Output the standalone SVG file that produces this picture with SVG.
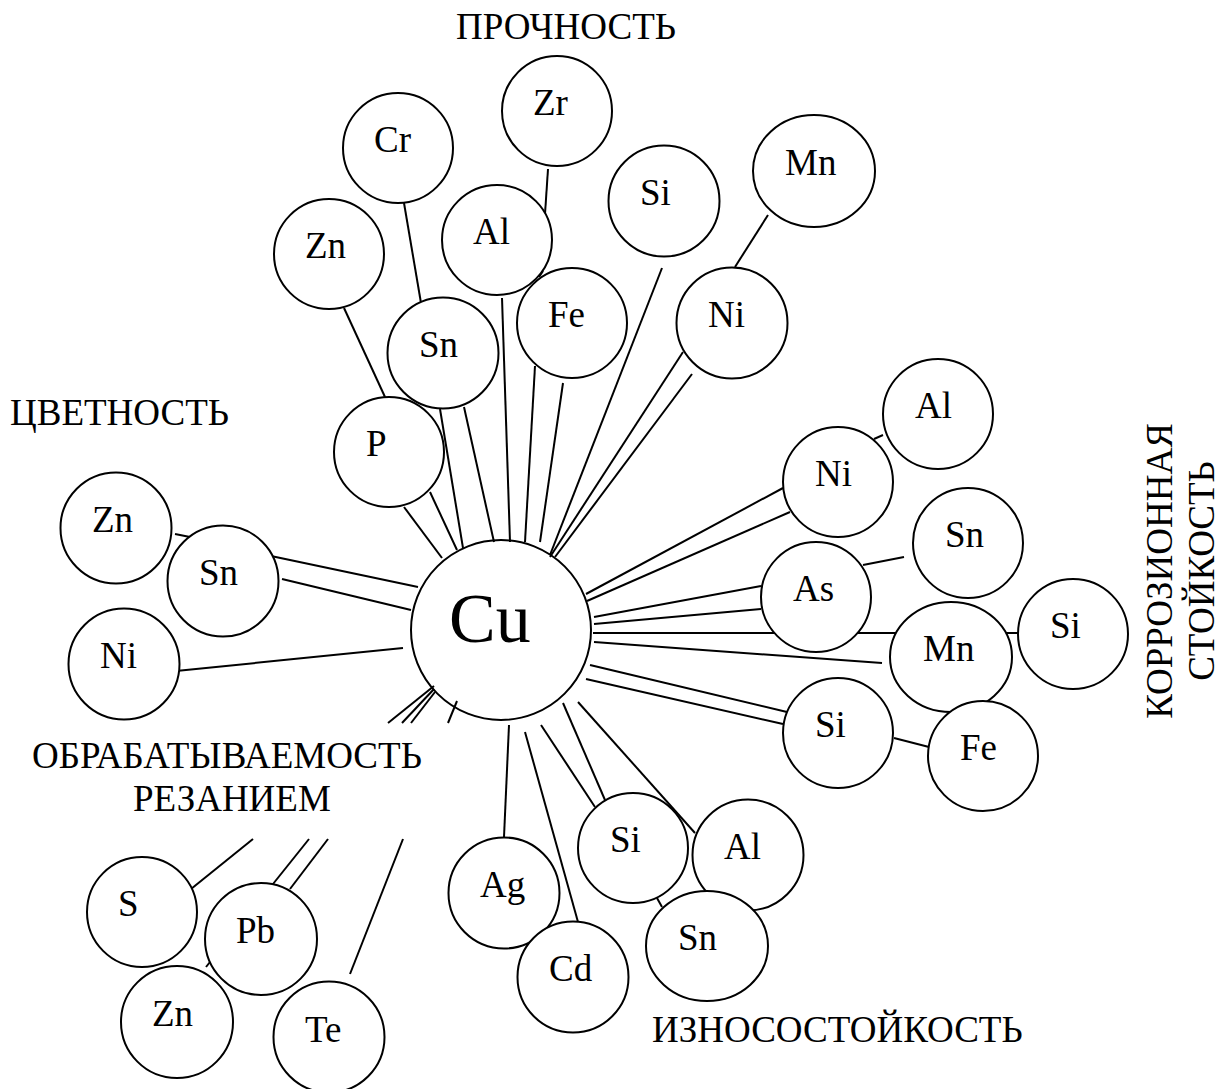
<svg xmlns="http://www.w3.org/2000/svg" width="1221" height="1089" viewBox="0 0 1221 1089">
<style>
.n{fill:#fff;stroke:#000;stroke-width:2}
.t{font-family:'Liberation Serif','Times New Roman',serif;font-size:37px;fill:#000}
.c line{stroke:#000;stroke-width:2}
</style>
<rect width="1221" height="1089" fill="#fff"/>
<g id="node-Cu"><circle class="n" cx="501" cy="630" r="90"/><text class="t" x="449" y="642" style="font-size:70px">Cu</text></g>
<g id="connectors" class="c">
<line x1="404" y1="203" x2="421" y2="303"/>
<line x1="548" y1="169" x2="545" y2="214"/>
<line x1="539" y1="277" x2="543" y2="271"/>
<line x1="344" y1="308" x2="385" y2="397"/>
<line x1="404" y1="507" x2="442" y2="558"/>
<line x1="430" y1="492" x2="457" y2="550"/>
<line x1="440" y1="409" x2="463" y2="548"/>
<line x1="464" y1="407" x2="494" y2="542"/>
<line x1="502" y1="298" x2="510" y2="542"/>
<line x1="535" y1="366" x2="525" y2="542"/>
<line x1="563" y1="383" x2="540" y2="542"/>
<line x1="662" y1="268" x2="550" y2="555"/>
<line x1="768" y1="215" x2="735" y2="267"/>
<line x1="683" y1="352" x2="550" y2="557"/>
<line x1="692" y1="374" x2="555" y2="557"/>
<line x1="175" y1="534" x2="190" y2="537"/>
<line x1="271" y1="556" x2="418" y2="587"/>
<line x1="282" y1="579" x2="411" y2="610"/>
<line x1="176" y1="671" x2="403" y2="648"/>
<line x1="874" y1="439" x2="883" y2="435"/>
<line x1="783" y1="488" x2="586" y2="594"/>
<line x1="790" y1="512" x2="587" y2="601"/>
<line x1="863" y1="565" x2="904" y2="557"/>
<line x1="761" y1="586" x2="594" y2="617"/>
<line x1="761" y1="609" x2="594" y2="624"/>
<line x1="593" y1="633" x2="1020" y2="633"/>
<line x1="594" y1="642" x2="882" y2="663"/>
<line x1="590" y1="665" x2="787" y2="712"/>
<line x1="586" y1="679" x2="783" y2="724"/>
<line x1="894" y1="738" x2="929" y2="747"/>
<line x1="509" y1="725" x2="504" y2="837"/>
<line x1="525" y1="732" x2="578" y2="922"/>
<line x1="541" y1="725" x2="595" y2="807"/>
<line x1="563" y1="703" x2="605" y2="800"/>
<line x1="578" y1="702" x2="695" y2="833"/>
<line x1="657" y1="898" x2="662" y2="907"/>
<line x1="434" y1="686" x2="388" y2="723"/>
<line x1="434" y1="689" x2="402" y2="723"/>
<line x1="435" y1="692" x2="411" y2="723"/>
<line x1="457" y1="701" x2="448" y2="723"/>
<line x1="253" y1="839" x2="191" y2="889"/>
<line x1="309" y1="839" x2="273" y2="884"/>
<line x1="328" y1="839" x2="290" y2="889"/>
<line x1="403" y1="839" x2="350" y2="974"/>
<line x1="210" y1="962" x2="206" y2="967"/>
</g>
<g id="node-Cr"><circle class="n" cx="398" cy="148" r="55"/><text class="t" x="374" y="152">Cr</text></g>
<g id="node-Zr"><circle class="n" cx="557" cy="111" r="55"/><text class="t" x="533" y="115">Zr</text></g>
<g id="node-Zn-top"><circle class="n" cx="329" cy="254" r="55"/><text class="t" x="305" y="258">Zn</text></g>
<g id="node-Al-top"><circle class="n" cx="497" cy="240" r="55"/><text class="t" x="473" y="244">Al</text></g>
<g id="node-Si-top"><circle class="n" cx="664" cy="201" r="55.5"/><text class="t" x="640" y="205">Si</text></g>
<g id="node-Mn-top"><ellipse class="n" cx="814" cy="171" rx="61" ry="56"/><text class="t" x="785" y="175">Mn</text></g>
<g id="node-Sn-top"><circle class="n" cx="443" cy="353" r="55.5"/><text class="t" x="419" y="357">Sn</text></g>
<g id="node-Fe-top"><circle class="n" cx="572" cy="323" r="55"/><text class="t" x="548" y="327">Fe</text></g>
<g id="node-Ni-top"><circle class="n" cx="732" cy="323" r="55.5"/><text class="t" x="708" y="327">Ni</text></g>
<g id="node-P"><circle class="n" cx="389" cy="452" r="55"/><text class="t" x="366" y="456">P</text></g>
<g id="node-Zn-left"><circle class="n" cx="116" cy="528" r="55.5"/><text class="t" x="92" y="532">Zn</text></g>
<g id="node-Sn-left"><circle class="n" cx="223" cy="581" r="55.5"/><text class="t" x="199" y="585">Sn</text></g>
<g id="node-Ni-left"><circle class="n" cx="124" cy="664" r="55.5"/><text class="t" x="100" y="668">Ni</text></g>
<g id="node-Ni-right"><circle class="n" cx="838" cy="482" r="55"/><text class="t" x="815" y="486">Ni</text></g>
<g id="node-Al-right"><circle class="n" cx="938" cy="414" r="55"/><text class="t" x="915" y="418">Al</text></g>
<g id="node-Sn-right"><circle class="n" cx="968" cy="543" r="55"/><text class="t" x="945" y="547">Sn</text></g>
<g id="node-As"><circle class="n" cx="816" cy="597" r="55"/><text class="t" x="793" y="601">As</text></g>
<g id="node-Mn-right"><ellipse class="n" cx="951" cy="657" rx="61" ry="55"/><text class="t" x="923" y="661">Mn</text></g>
<g id="node-Si-far"><circle class="n" cx="1073" cy="634" r="55"/><text class="t" x="1050" y="638">Si</text></g>
<g id="node-Si-right"><circle class="n" cx="838" cy="733" r="55"/><text class="t" x="815" y="737">Si</text></g>
<g id="node-Fe-right"><circle class="n" cx="983" cy="756" r="55"/><text class="t" x="960" y="760">Fe</text></g>
<g id="node-Ag"><circle class="n" cx="504" cy="893" r="55.5"/><text class="t" x="480" y="897">Ag</text></g>
<g id="node-Cd"><circle class="n" cx="573" cy="977" r="55.5"/><text class="t" x="549" y="981">Cd</text></g>
<g id="node-Si-bottom"><circle class="n" cx="633" cy="848" r="55"/><text class="t" x="610" y="852">Si</text></g>
<g id="node-Al-bottom"><circle class="n" cx="748" cy="855" r="55.5"/><text class="t" x="724" y="859">Al</text></g>
<g id="node-Sn-bottom"><ellipse class="n" cx="707" cy="946" rx="61" ry="55"/><text class="t" x="678" y="950">Sn</text></g>
<g id="node-S"><circle class="n" cx="142" cy="912" r="55"/><text class="t" x="118" y="916">S</text></g>
<g id="node-Pb"><circle class="n" cx="261" cy="939" r="56"/><text class="t" x="236" y="943">Pb</text></g>
<g id="node-Zn-bottom"><circle class="n" cx="177" cy="1022" r="56"/><text class="t" x="152" y="1026">Zn</text></g>
<g id="node-Te"><circle class="n" cx="329" cy="1037" r="55.5"/><text class="t" x="305" y="1042">Te</text></g>
<g id="labels">
<text class="t" x="456" y="39">ПРОЧНОСТЬ</text>
<text class="t" x="10" y="425">ЦВЕТНОСТЬ</text>
<text class="t" x="32" y="768">ОБРАБАТЫВАЕМОСТЬ</text>
<text class="t" x="133" y="811">РЕЗАНИЕМ</text>
<text class="t" x="652" y="1042">ИЗНОСОСТОЙКОСТЬ</text>
<text class="t" x="1172" y="571" text-anchor="middle" transform="rotate(-90 1172 571)">КОРРОЗИОННАЯ</text>
<text class="t" x="1214" y="571" text-anchor="middle" transform="rotate(-90 1214 571)">СТОЙКОСТЬ</text>
</g>
</svg>
